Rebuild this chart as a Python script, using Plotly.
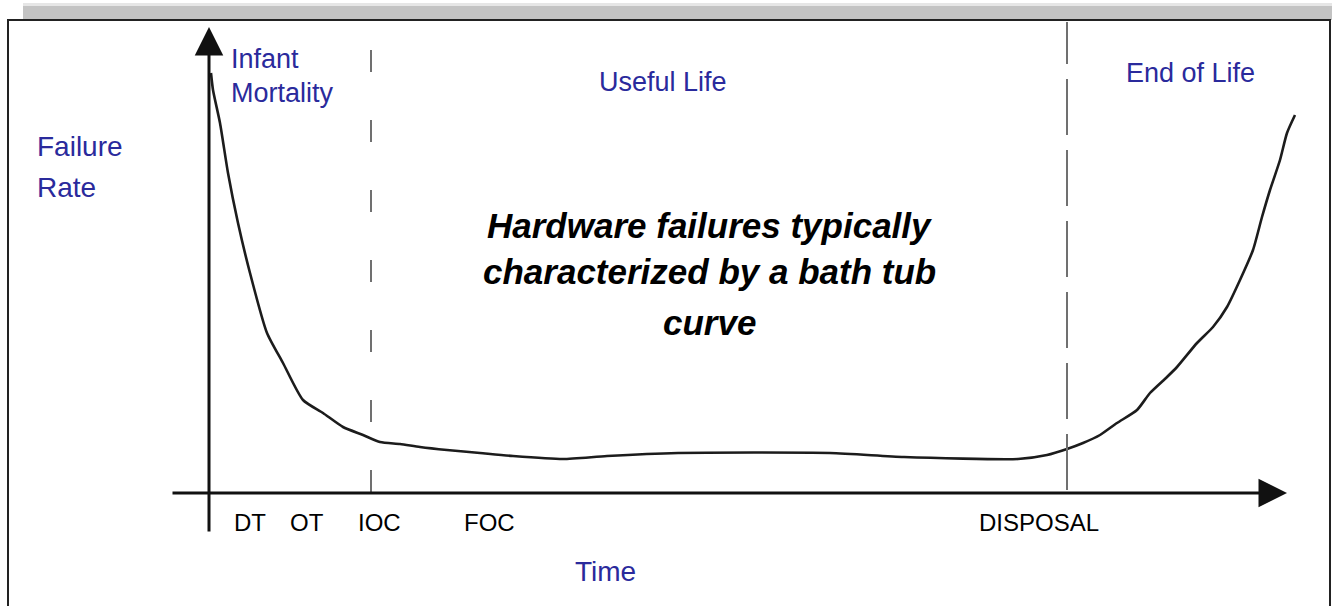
import plotly.graph_objects as go

# ---- data (time units, failure-rate units) ----
curve_time = [0.2, 0.4, 1.1, 1.9, 2.9, 4.1, 5.8, 7.4, 9.4, 11.4, 13.4, 15.4, 17.1, 19.1,
              21.1, 23.8, 27.1, 30.4, 35.4, 39.8, 46.9, 62.1, 69.5, 80.9, 83.8, 85.8,
              87.4, 89.1, 90.8, 92.8, 94.1, 95.8, 96.8, 98.8, 100.4, 101.8, 103.1,
              104.4, 105.3, 106.1, 107.1, 107.8, 108.6]
curve_rate = [42.0, 40.3, 37.0, 32.0, 27.0, 22.0, 16.0, 13.0, 9.3, 8.0, 6.6, 5.8, 5.1, 4.9,
              4.6, 4.3, 4.0, 3.7, 3.4, 3.7, 4.0, 4.0, 3.6, 3.4, 3.8, 4.4,
              5.0, 5.8, 7.0, 8.3, 10.0, 11.6, 12.6, 15.0, 16.6, 18.6, 21.3,
              24.3, 27.6, 30.3, 33.3, 36.0, 37.8]

milestone_labels = ["DT", "OT", "IOC", "FOC", "DISPOSAL"]
milestone_label_times = [4.1, 9.8, 17.0, 28.0, 83.0]
phase_boundaries = [16.2, 85.8]   # IOC, DISPOSAL

phase_labels = ["Useful Life", "End of Life"]
phase_label_times = [45.4, 98.1]

caption_lines = ["Hardware failures typically", "characterized by a bath tub", "curve"]

W, H = 1332, 606
X0_PX, Y0_PX, SCALE = 209, 493, 10.0
x_range = [(0 - X0_PX) / SCALE, (W - X0_PX) / SCALE]
y_range = [(Y0_PX - H) / SCALE, (Y0_PX - 0) / SCALE]

BLUE = "#2a2a9c"
FONT = "Liberation Sans, Arial, sans-serif"

fig = go.Figure()

fig.add_trace(go.Scatter(x=curve_time, y=curve_rate, mode="lines",
                         line=dict(color="#1c1c1c", width=2.6, shape="spline", smoothing=0.6),
                         hoverinfo="skip", showlegend=False))

def px_x(p):
    return p / W

def px_y(p):
    return 1 - p / H

shapes = []
# gray strip at top
shapes.append(dict(type="rect", xref="paper", yref="paper", x0=px_x(23), x1=1.0,
                   y0=px_y(20), y1=px_y(3), fillcolor="#c3c3c3", line=dict(width=0), layer="below"))
shapes.append(dict(type="rect", xref="paper", yref="paper", x0=px_x(23), x1=1.0,
                   y0=px_y(6), y1=px_y(3), fillcolor="#e6e6e6", line=dict(width=0), layer="below"))
# black frame (left, top, right)
shapes.append(dict(type="path", xref="paper", yref="paper",
                   path=f"M {px_x(8)},0 L {px_x(8)},{px_y(20)} L {px_x(1330)},{px_y(20)} L {px_x(1330)},0",
                   line=dict(color="#222", width=2)))
# dotted phase boundaries
shapes.append(dict(type="line", xref="x", yref="y", x0=phase_boundaries[0], x1=phase_boundaries[0],
                   y0=44.3, y1=-0.8, line=dict(color="#707070", width=2, dash="22px,48px")))
shapes.append(dict(type="line", xref="x", yref="y", x0=phase_boundaries[1], x1=phase_boundaries[1],
                   y0=0.3, y1=47.1, line=dict(color="#707070", width=2, dash="56px,15px")))

annotations = []
# axes with arrows
annotations.append(dict(x=107.8, y=0, ax=-3.8, ay=0, xref="x", yref="y", axref="x", ayref="y",
                        text="", showarrow=True, arrowhead=2, arrowsize=1.9, arrowwidth=3,
                        arrowcolor="#111"))
annotations.append(dict(x=0, y=46.6, ax=0, ay=-4.0, xref="x", yref="y", axref="x", ayref="y",
                        text="", showarrow=True, arrowhead=2, arrowsize=1.9, arrowwidth=3,
                        arrowcolor="#111"))

# milestone labels
for lab, t in zip(milestone_labels, milestone_label_times):
    annotations.append(dict(x=t, y=-2.9, xref="x", yref="y", text=lab, showarrow=False,
                            xanchor="center", yanchor="middle",
                            font=dict(family=FONT, size=24, color="#000")))

# phase labels
annotations.append(dict(x=px_x(229), y=px_y(59), xref="paper", yref="paper", text="Infant",
                        showarrow=False, xanchor="left", yanchor="middle",
                        font=dict(family=FONT, size=27, color=BLUE)))
annotations.append(dict(x=px_x(229), y=px_y(93), xref="paper", yref="paper", text="Mortality",
                        showarrow=False, xanchor="left", yanchor="middle",
                        font=dict(family=FONT, size=27, color=BLUE)))
annotations.append(dict(x=phase_label_times[0], y=px_y(82), xref="x", yref="paper", text=phase_labels[0],
                        showarrow=False, xanchor="center", yanchor="middle",
                        font=dict(family=FONT, size=27, color=BLUE)))
annotations.append(dict(x=phase_label_times[1], y=px_y(73), xref="x", yref="paper", text=phase_labels[1],
                        showarrow=False, xanchor="center", yanchor="middle",
                        font=dict(family=FONT, size=27, color=BLUE)))
# axis titles
annotations.append(dict(x=px_x(35), y=px_y(146), xref="paper", yref="paper", text="Failure",
                        showarrow=False, xanchor="left", yanchor="middle",
                        font=dict(family=FONT, size=28, color=BLUE)))
annotations.append(dict(x=px_x(35), y=px_y(187), xref="paper", yref="paper", text="Rate",
                        showarrow=False, xanchor="left", yanchor="middle",
                        font=dict(family=FONT, size=28, color=BLUE)))
annotations.append(dict(x=px_x(605), y=px_y(571), xref="paper", yref="paper", text="Time",
                        showarrow=False, xanchor="center", yanchor="middle",
                        font=dict(family=FONT, size=28, color=BLUE)))
# central caption, one annotation per line
caption_mid_px = [226, 271, 322]
for line, ypx in zip(caption_lines, caption_mid_px):
    annotations.append(dict(x=px_x(709), y=px_y(ypx), xref="paper", yref="paper",
                            text=f"<b><i>{line}</i></b>",
                            showarrow=False, xanchor="center", yanchor="middle",
                            font=dict(family=FONT, size=35, color="#000")))

fig.update_layout(
    width=W, height=H,
    margin=dict(l=0, r=0, t=0, b=0),
    paper_bgcolor="white", plot_bgcolor="white",
    xaxis=dict(range=x_range, visible=False, fixedrange=True),
    yaxis=dict(range=y_range, visible=False, fixedrange=True),
    shapes=shapes, annotations=annotations,
    showlegend=False,
)

fig.write_html("out.html", config={"displayModeBar": False},
               post_script="document.body.style.margin='0px';document.body.style.overflow='hidden';")
